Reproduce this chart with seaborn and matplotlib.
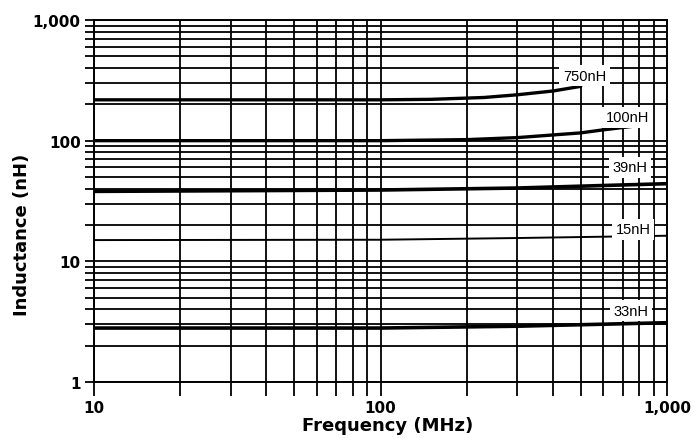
import numpy as np
import pandas as pd
import seaborn as sns
import matplotlib
matplotlib.use('Agg')
import matplotlib.pyplot as plt
from matplotlib.ticker import LogLocator, FuncFormatter, NullFormatter

# curves (frequency MHz, inductance nH)
f_750 = [10, 100, 150, 230, 300, 400, 500]
L_750 = [218, 218, 220, 228, 240, 258, 282]
f_100 = [10, 100, 200, 300, 500, 600, 750]
L_100 = [100, 100, 102, 106, 116, 123, 131]
f_39 = [10, 100, 300, 600, 1000]
L_39 = [38, 39, 40.5, 42.5, 44]
f_15 = [10, 100, 300, 1000]
L_15 = [15, 15.1, 15.6, 16.3]
f_33 = [10, 100, 300, 1000]
L_33 = [2.8, 2.8, 2.9, 3.1]

names = ['750nH', '100nH', '39nH', '15nH', '33nH']
label_f = [515, 726, 743, 762, 750]
label_L = [345, 157, 60.5, 18.5, 3.88]

frames = []
for name, f, L in zip(names, [f_750, f_100, f_39, f_15, f_33],
                      [L_750, L_100, L_39, L_15, L_33]):
    frames.append(pd.DataFrame({'freq': f, 'ind': L, 'part': name}))
df = pd.concat(frames)

sns.set_style('white')
plt.rcParams['font.family'] = ['DejaVu Sans']
plt.rcParams['text.color'] = 'black'
plt.rcParams['axes.labelcolor'] = 'black'
plt.rcParams['xtick.color'] = 'black'
plt.rcParams['ytick.color'] = 'black'

fig = plt.figure(figsize=(6.94, 4.39), dpi=100)
ax = fig.add_axes([94/694, 1-383/439, (667-94)/694, (383-21)/439])

widths = {'750nH': 2.4, '100nH': 2.4, '39nH': 2.6, '15nH': 1.4, '33nH': 2.6}
for name in names:
    sns.lineplot(data=df[df['part'] == name], x='freq', y='ind', ax=ax,
                 color='black', lw=widths[name], zorder=3, legend=False)

ax.set_xscale('log')
ax.set_yscale('log')
ax.set_xlim(10, 1000)
ax.set_ylim(1, 1000)

ax.xaxis.set_major_locator(LogLocator(base=10))
ax.yaxis.set_major_locator(LogLocator(base=10))
ax.xaxis.set_minor_locator(LogLocator(base=10, subs=np.arange(2, 10)))
ax.yaxis.set_minor_locator(LogLocator(base=10, subs=np.arange(2, 10)))
fmt = FuncFormatter(lambda v, p: f'{v:,.0f}')
ax.xaxis.set_major_formatter(fmt)
ax.yaxis.set_major_formatter(fmt)
ax.xaxis.set_minor_formatter(NullFormatter())
ax.yaxis.set_minor_formatter(NullFormatter())

ax.grid(which='both', color='black', lw=1.3)
ax.set_axisbelow(True)
for s in ax.spines.values():
    s.set_color('black')
    s.set_linewidth(1.4)

ax.tick_params(which='both', direction='out', color='black', width=1.3,
               bottom=True, left=True, top=False, right=False)
ax.tick_params(axis='x', which='both', length=10, pad=3)
ax.tick_params(axis='y', which='both', length=6.5, pad=3)
for lab in ax.get_xticklabels() + ax.get_yticklabels():
    lab.set_fontsize(11)
    lab.set_fontweight('bold')

ax.set_xlabel('Frequency (MHz)', fontsize=13, fontweight='bold')
ax.set_ylabel('Inductance (nH)', fontsize=13, fontweight='bold')
ax.xaxis.label.set_va('center')
ax.yaxis.label.set_va('center')
ax.xaxis.set_label_coords(0.513, -0.118)
ax.yaxis.set_label_coords(-0.125, 0.41)

for name, x, y in zip(names, label_f, label_L):
    ax.text(x, y, name, fontsize=10.5, family='Liberation Sans', ha='center',
            va='center', zorder=5, bbox=dict(fc='white', ec='none', pad=2.5))

fig.savefig('out.png', dpi=100)
